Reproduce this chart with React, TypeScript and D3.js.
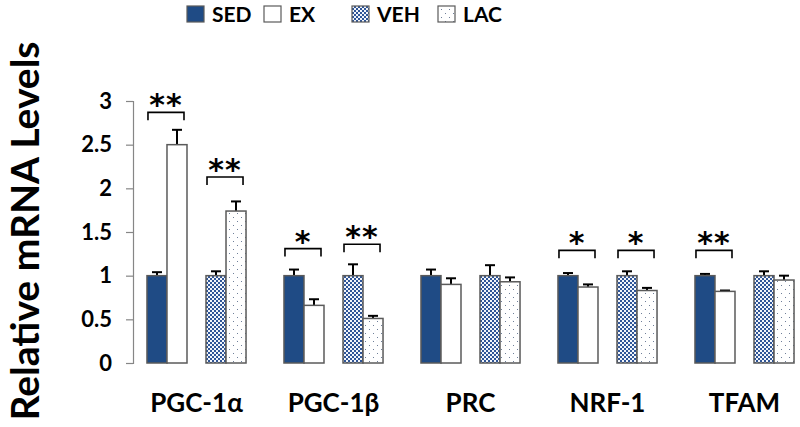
import { useEffect, useRef } from "react";
import * as d3 from "d3";

// values
const genes = ["PGC-1α", "PGC-1β", "PRC", "NRF-1", "TFAM"];
const groups = ["SED", "EX", "VEH", "LAC"];

const sedMean = [1, 1, 1, 1, 1];
const sedErr = [0.04, 0.07, 0.07, 0.03, 0.02];
const exMean = [2.5, 0.66, 0.9, 0.87, 0.82];
const exErr = [0.17, 0.07, 0.07, 0.03, 0.01];
const vehMean = [1, 1, 1, 1, 1];
const vehErr = [0.05, 0.13, 0.12, 0.05, 0.05];
const lacMean = [1.74, 0.51, 0.93, 0.83, 0.95];
const lacErr = [0.11, 0.03, 0.05, 0.03, 0.05];

const yTicks = [0, 0.5, 1, 1.5, 2, 2.5, 3];

// significance brackets: gene, pair (0 = SED/EX, 1 = VEH/LAC), stars, bracket level
const sigGene = ["PGC-1α", "PGC-1α", "PGC-1β", "PGC-1β", "NRF-1", "NRF-1", "TFAM"];
const sigPair = [0, 1, 0, 1, 0, 1, 0];
const sigStars = ["**", "**", "*", "**", "*", "*", "**"];
const sigLevel = [2.87, 2.13, 1.31, 1.36, 1.29, 1.29, 1.29];

const W = 800;
const H = 427;
const FONT = "Lato, 'Open Sans', sans-serif";

export default function App() {
  const ref = useRef<SVGSVGElement>(null);

  useEffect(() => {
    const svg = d3.select(ref.current);
    svg.selectAll("*").remove();

    // patterns
    const defs = svg.append("defs");
    const checker = defs
      .append("pattern")
      .attr("id", "checker")
      .attr("patternUnits", "userSpaceOnUse")
      .attr("width", 4)
      .attr("height", 4);
    checker.append("rect").attr("width", 4).attr("height", 4).attr("fill", "#f2f5fa");
    checker.append("rect").attr("width", 2).attr("height", 2).attr("fill", "#2f5597");
    checker.append("rect").attr("x", 2).attr("y", 2).attr("width", 2).attr("height", 2).attr("fill", "#2f5597");

    const dots = defs
      .append("pattern")
      .attr("id", "dots")
      .attr("patternUnits", "userSpaceOnUse")
      .attr("width", 8)
      .attr("height", 8);
    dots.append("rect").attr("width", 8).attr("height", 8).attr("fill", "#ffffff");
    dots.append("rect").attr("x", 1).attr("y", 1).attr("width", 1).attr("height", 1).attr("fill", "#6f7f99");
    dots.append("rect").attr("x", 5).attr("y", 5).attr("width", 1).attr("height", 1).attr("fill", "#6f7f99");

    const fills: Record<string, string> = {
      SED: "#1f4b85",
      EX: "#ffffff",
      VEH: "url(#checker)",
      LAC: "url(#dots)",
    };

    const y = d3.scaleLinear().domain([0, 3]).range([363, 101]);

    const x0 = d3
      .scaleBand()
      .domain(genes)
      .range([128, 128 + 137 * 5])
      .paddingInner(0.277)
      .paddingOuter(0.1385);
    const xPair = d3
      .scaleBand<number>()
      .domain([0, 1])
      .range([0, x0.bandwidth()])
      .paddingInner(0.322);
    const xBar = d3.scaleBand<number>().domain([0, 1]).range([0, xPair.bandwidth()]);

    const rows = genes.flatMap((g, i) => [
      { gene: g, grp: "SED", pair: 0, k: 0, mean: sedMean[i], err: sedErr[i] },
      { gene: g, grp: "EX", pair: 0, k: 1, mean: exMean[i], err: exErr[i] },
      { gene: g, grp: "VEH", pair: 1, k: 0, mean: vehMean[i], err: vehErr[i] },
      { gene: g, grp: "LAC", pair: 1, k: 1, mean: lacMean[i], err: lacErr[i] },
    ]);
    const bx = (d: { gene: string; pair: number; k: number }) =>
      (x0(d.gene) ?? 0) + (xPair(d.pair) ?? 0) + (xBar(d.k) ?? 0);

    // error bars (upper only)
    const eb = svg.append("g").attr("stroke", "#000").attr("stroke-width", 2);
    rows.forEach((d) => {
      const cx = bx(d) + xBar.bandwidth() / 2;
      eb.append("line").attr("x1", cx).attr("x2", cx).attr("y1", y(d.mean)).attr("y2", y(d.mean + d.err));
      eb.append("line")
        .attr("x1", cx - 5)
        .attr("x2", cx + 5)
        .attr("y1", y(d.mean + d.err))
        .attr("y2", y(d.mean + d.err));
    });

    // bars
    svg
      .append("g")
      .selectAll("rect")
      .data(rows)
      .join("rect")
      .attr("x", (d) => bx(d))
      .attr("y", (d) => y(d.mean))
      .attr("width", xBar.bandwidth())
      .attr("height", (d) => y(0) - y(d.mean))
      .attr("fill", (d) => fills[d.grp])
      .attr("stroke", "#5a5a5a")
      .attr("stroke-width", 1.5);

    // y axis
    const yAxis = svg
      .append("g")
      .attr("transform", "translate(133,0)")
      .call(
        d3
          .axisLeft(y)
          .tickValues(yTicks)
          .tickSize(7)
          .tickPadding(14)
          .tickFormat((d) => String(d))
      );
    yAxis.select(".domain").attr("stroke", "#868686").attr("stroke-width", 1.2);
    yAxis.selectAll(".tick line").attr("stroke", "#868686").attr("stroke-width", 1.2);
    yAxis
      .selectAll(".tick text")
      .attr("font-family", FONT)
      .attr("font-weight", "bold")
      .attr("font-size", 22)
      .attr("fill", "#000");

    // axis title
    svg
      .append("text")
      .attr("transform", "translate(39,231) rotate(-90)")
      .attr("text-anchor", "middle")
      .attr("font-family", FONT)
      .attr("font-weight", "bold")
      .attr("font-size", 39)
      .attr("fill", "#000")
      .text("Relative mRNA Levels");

    // category labels
    svg
      .append("g")
      .selectAll("text")
      .data(genes)
      .join("text")
      .attr("x", (g) => (x0(g) ?? 0) + x0.bandwidth() / 2)
      .attr("y", 412)
      .attr("text-anchor", "middle")
      .attr("font-family", FONT)
      .attr("font-weight", "bold")
      .attr("font-size", 26)
      .attr("fill", "#000")
      .text((g) => g);

    // significance brackets
    const sg = svg.append("g");
    sigGene.forEach((g, i) => {
      const left = (x0(g) ?? 0) + (xPair(sigPair[i]) ?? 0);
      const xa = left + 1;
      const xb = left + xPair.bandwidth() - 3;
      const yb = y(sigLevel[i]);
      sg.append("path")
        .attr("d", `M${xa},${yb + 8}V${yb}H${xb}V${yb + 8}`)
        .attr("fill", "none")
        .attr("stroke", "#000")
        .attr("stroke-width", 1.6);
      sg.append("text")
        .attr("x", (xa + xb) / 2)
        .attr("y", yb + 3)
        .attr("text-anchor", "middle")
        .attr("font-family", "'DejaVu Sans', sans-serif")
        .attr("font-weight", "bold")
        .attr("font-size", 30)
        .attr("letter-spacing", 1)
        .attr("fill", "#000")
        .text(sigStars[i]);
    });

    // legend
    const legX = [187, 264, 352, 438];
    const lg = svg.append("g");
    groups.forEach((g, i) => {
      lg.append("rect")
        .attr("x", legX[i])
        .attr("y", 6)
        .attr("width", 17)
        .attr("height", 16)
        .attr("fill", fills[g])
        .attr("stroke", "#5a5a5a")
        .attr("stroke-width", 1.2);
      lg.append("text")
        .attr("x", legX[i] + 25)
        .attr("y", 22)
        .attr("font-family", FONT)
        .attr("font-weight", "bold")
        .attr("font-size", 21)
        .attr("fill", "#000")
        .text(g);
    });
  }, []);

  return (
    <svg
      ref={ref}
      width={W}
      height={H}
      style={{ position: "absolute", left: 0, top: 0, background: "#fff" }}
    />
  );
}
